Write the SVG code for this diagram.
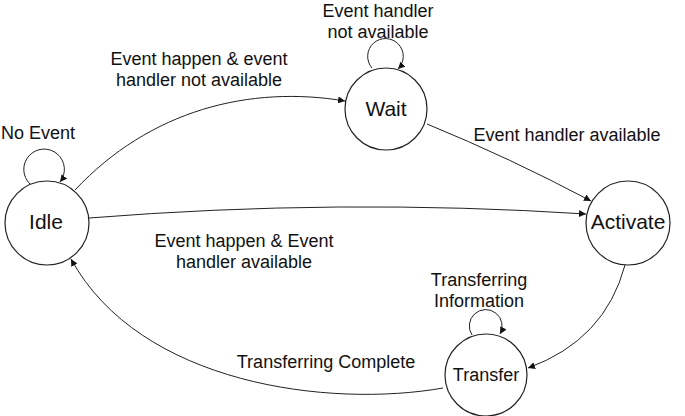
<svg xmlns="http://www.w3.org/2000/svg" width="685" height="416" viewBox="0 0 685 416">
<defs>
<marker id="arr" viewBox="0 0 10 10" refX="10" refY="5" markerWidth="7" markerHeight="7" markerUnits="userSpaceOnUse" orient="auto">
<path d="M0,0 L10,5 L0,10 z" fill="#111"/>
</marker>
</defs>
<style>
.node{fill:#fff;stroke:#222;stroke-width:1.2}
.edge{fill:none;stroke:#222;stroke-width:1;marker-end:url(#arr)}
.nl{font-family:"Liberation Sans",Arial,sans-serif;font-size:21px;fill:#111;text-anchor:middle}
.el{font-family:"Liberation Sans",Arial,sans-serif;font-size:18px;fill:#111;text-anchor:middle}
</style>
<rect width="685" height="416" fill="#fff"/>
<g id="connectors">
<path class="edge" d="M30,184 A20.3,20.3 0 1 1 60,182"/>
<path class="edge" d="M372,68 A17.8,17.8 0 1 1 398,69"/>
<path class="edge" d="M472,335 A16.4,16.4 0 1 1 500,334"/>
<path class="edge" d="M75,190 C150,110 250,85 345,101"/>
<path class="edge" d="M89,218 Q340,198 586,214"/>
<path class="edge" d="M427,124 Q510,158 591,201"/>
<path class="edge" d="M625,265 Q605,340 528,368"/>
<path class="edge" d="M443,388 C330,408 140,385 71,259"/>
<text class="el" x="38" y="139">No Event</text>
<text class="el" x="378" y="17">Event handler</text>
<text class="el" x="378" y="38">not available</text>
<text class="el" x="199" y="65">Event happen &amp; event</text>
<text class="el" x="199" y="86">handler not available</text>
<text class="el" x="567" y="141">Event handler available</text>
<text class="el" x="244" y="247">Event happen &amp; Event</text>
<text class="el" x="244" y="268">handler available</text>
<text class="el" x="479" y="286">Transferring</text>
<text class="el" x="479" y="307">Information</text>
<text class="el" x="326" y="368">Transferring Complete</text>
</g>
<g id="idle">
<circle class="node" cx="47" cy="223" r="42"/>
<text class="nl" x="46" y="229">Idle</text>
</g>
<g id="wait">
<circle class="node" cx="386" cy="109" r="41"/>
<text class="nl" x="386" y="116">Wait</text>
</g>
<g id="activate">
<circle class="node" cx="628" cy="223" r="42"/>
<text class="nl" x="628" y="229">Activate</text>
</g>
<g id="transfer">
<circle class="node" cx="486" cy="375" r="41"/>
<text class="nl" x="486" y="381" style="font-size:18px">Transfer</text>
</g>
</svg>
